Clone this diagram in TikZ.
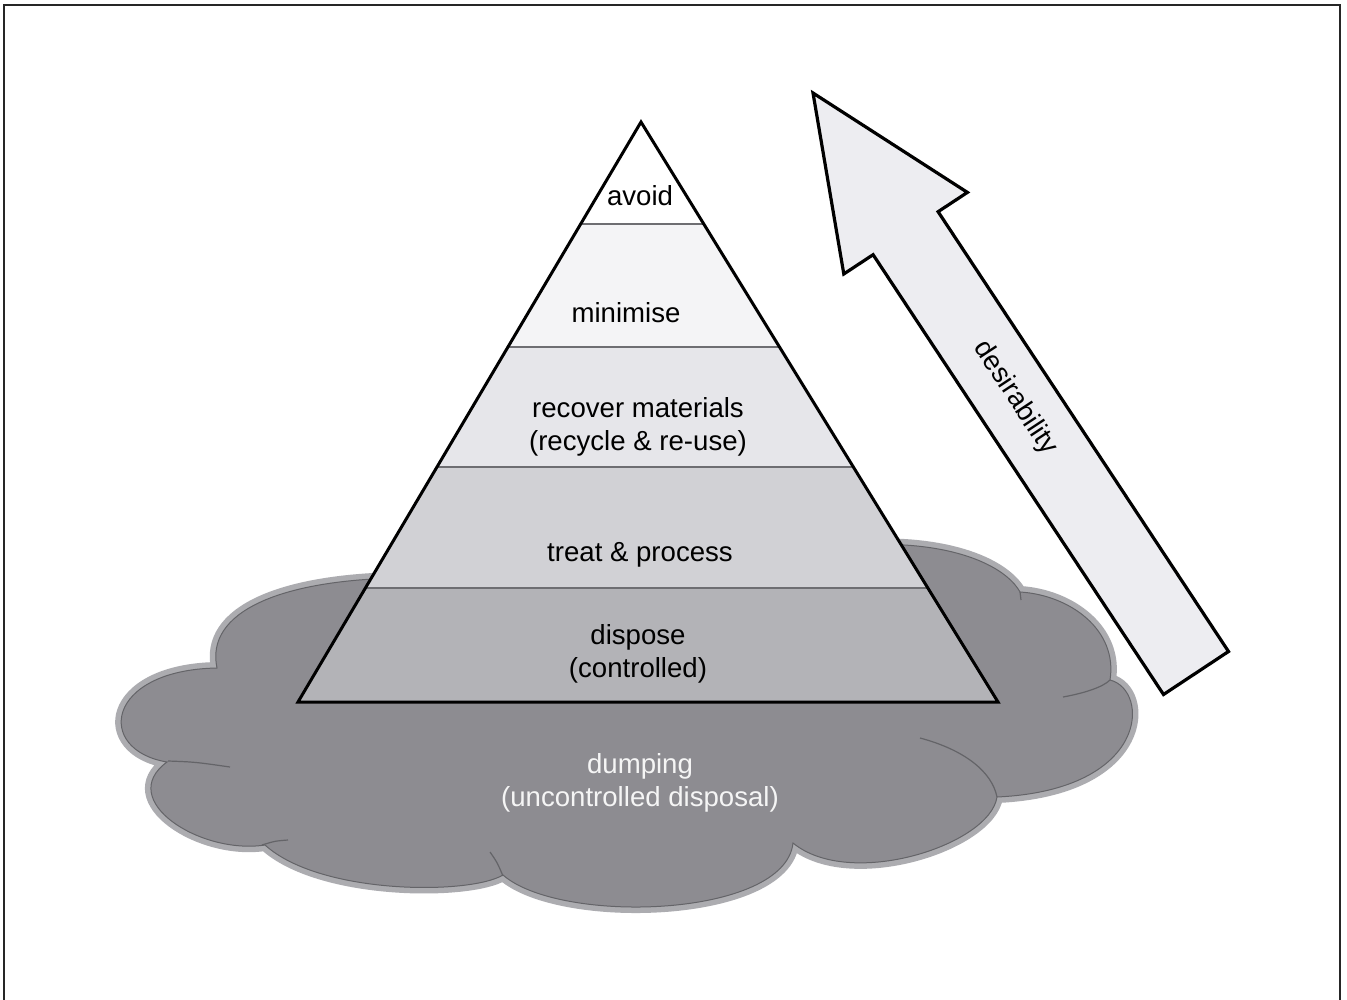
\documentclass[tikz,border=0pt]{standalone}
\usepackage{fontspec}
\setmainfont{Liberation Sans}
\definecolor{bandA}{HTML}{FFFFFF}
\definecolor{bandB}{HTML}{F4F4F6}
\definecolor{bandC}{HTML}{E6E6EA}
\definecolor{bandD}{HTML}{D1D1D5}
\definecolor{bandE}{HTML}{B3B3B7}
\definecolor{cloudfill}{HTML}{8D8C91}
\definecolor{cloudrim}{HTML}{ACACB0}
\definecolor{cloudline}{HTML}{646468}
\definecolor{arrowfill}{HTML}{EDEDF1}
\definecolor{sepline}{HTML}{6E6E72}
\begin{document}
\begin{tikzpicture}[x=1pt,y=-1pt,
  lbl/.style={font=\fontsize{27.6}{33}\selectfont, align=center, inner sep=0pt, anchor=base},
  innerarc/.style={draw=cloudline, line width=1.2pt},
  sep/.style={draw=sepline, line width=1.6pt}]
\useasboundingbox (0,0) rectangle (1347,1000);
\fill[white] (0,0) rectangle (1347,1000);
% frame
\draw[line width=2.5pt, black!85] (4,1002) -- (4,5) -- (1340,5) -- (1340,1002);

% cloud
\def\cloudshape{(860,545) .. controls (950,540) and (1005,565) .. (1020,592)
 .. controls (1070,595) and (1118,630) .. (1110,680)
 .. controls (1150,690) and (1150,790) .. (997,797)
 .. controls (990,845) and (850,890) .. (793,843)
 .. controls (785,918) and (560,925) .. (503,875)
 .. controls (470,895) and (320,895) .. (265,845)
 .. controls (200,855) and (115,800) .. (167,762)
 .. controls (95,750) and (105,670) .. (217,668)
 .. controls (205,612) and (280,580) .. (400,578)
 -- (500,570) -- cycle}
\draw[cloudrim, line width=12pt, line join=round] \cloudshape;
\filldraw[fill=cloudfill, draw=cloudline, line width=1pt] \cloudshape;
\draw[innerarc] (168,761) .. controls (195,762) .. (230,767);
\draw[innerarc] (262,845) .. controls (275,841) .. (288,840);
\draw[innerarc] (503,876) .. controls (497,862) .. (490,852);
\draw[innerarc] (920,738) .. controls (965,750) and (992,772) .. (997,797);
\draw[innerarc] (1063,697) .. controls (1085,693) and (1103,687) .. (1110,680);
\draw[innerarc] (1020,592) -- (1021,600);

% pyramid
\coordinate (apex) at (641,122);
\coordinate (bl) at (298,702);
\coordinate (br) at (998,702);
\begin{scope}
\clip (apex) -- (bl) -- (br) -- cycle;
\fill[bandA] (250,100) rectangle (1050,224);
\fill[bandB] (250,224) rectangle (1050,347);
\fill[bandC] (250,347) rectangle (1050,467);
\fill[bandD] (250,467) rectangle (1050,588);
\fill[bandE] (250,588) rectangle (1050,705);
\draw[sep] (250,224) -- (1050,224);
\draw[sep] (250,347) -- (1050,347);
\draw[sep] (250,467) -- (1050,467);
\draw[sep] (250,588) -- (1050,588);
\end{scope}
\draw[line width=3pt, line join=miter] (apex) -- (bl) -- (br) -- cycle;

% labels
\node[lbl] (avoid) at (640,206) {avoid};
\node[lbl] (minimise) at (626,323) {minimise};
\node[lbl] (recover) at (638,450) {recover materials\\(recycle \& re-use)};
\node[lbl] (treat) at (640,561) {treat \& process};
\node[lbl] (dispose) at (638,677) {dispose\\(controlled)};
\node[lbl, text=white!96!black] (dumping) at (640,806) {dumping\\(uncontrolled disposal)};

% arrow
\coordinate (tip) at (813,93);
\coordinate (rb) at (967.4,192.4);
\coordinate (rn) at (938.1,211.7);
\coordinate (rbot) at (1228.5,651.5);
\coordinate (lbot) at (1163.5,694.5);
\coordinate (ln) at (873.1,254.7);
\coordinate (lb) at (843.8,274);
\filldraw[fill=arrowfill, draw=black, line width=3.2pt, line join=miter]
  (tip) -- (rb) -- (rn) -- (rbot) -- (lbot) -- (ln) -- (lb) -- cycle;
\node[font=\fontsize{27.6}{33}\selectfont, inner sep=0pt, rotate=-56.57] (desir) at (1015,398) {desirability};
\end{tikzpicture}
\end{document}
